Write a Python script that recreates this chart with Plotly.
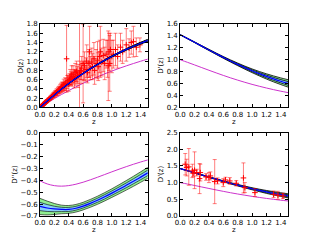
import plotly.graph_objects as go

# ---------------- data ----------------
z_grid = [0.0, 0.1, 0.2, 0.3, 0.4, 0.5, 0.6, 0.7, 0.8, 0.9, 1.0, 1.1, 1.2, 1.3, 1.4, 1.5]

# reconstruction (blue line) and band half-widths
D_center = [0.0, 0.139, 0.271, 0.397, 0.516, 0.629, 0.735, 0.835, 0.929, 1.018, 1.101, 1.179, 1.252, 1.321, 1.386, 1.447]
D_sig2 = [0.0, 0.001, 0.001, 0.002, 0.003, 0.004, 0.005, 0.006, 0.008, 0.010, 0.012, 0.014, 0.016, 0.018, 0.020, 0.022]
D_sig1 = [0.0, 0.0005, 0.0005, 0.001, 0.0015, 0.002, 0.0025, 0.003, 0.004, 0.005, 0.006, 0.007, 0.008, 0.009, 0.010, 0.011]

Dp_center = [1.42, 1.357, 1.294, 1.229, 1.165, 1.102, 1.040, 0.980, 0.923, 0.868, 0.816, 0.767, 0.721, 0.679, 0.640, 0.604]
Dp_sig2 = [0.002, 0.004, 0.006, 0.008, 0.010, 0.012, 0.015, 0.018, 0.022, 0.026, 0.031, 0.037, 0.044, 0.050, 0.056, 0.062]
Dp_sig1 = [0.001, 0.002, 0.003, 0.004, 0.005, 0.006, 0.0075, 0.009, 0.011, 0.013, 0.0155, 0.0185, 0.022, 0.025, 0.028, 0.031]

Dpp_center = [-0.620, -0.633, -0.641, -0.645, -0.645, -0.635, -0.617, -0.594, -0.568, -0.539, -0.508, -0.476, -0.443, -0.409, -0.374, -0.338]
Dpp_sig2 = [0.068, 0.058, 0.046, 0.036, 0.033, 0.032, 0.032, 0.033, 0.034, 0.035, 0.036, 0.038, 0.040, 0.042, 0.044, 0.046]
Dpp_sig1 = [0.035, 0.029, 0.023, 0.018, 0.017, 0.016, 0.016, 0.016, 0.017, 0.018, 0.018, 0.019, 0.020, 0.021, 0.022, 0.023]

# reference model (magenta)
mag_D = [0.0, 0.098, 0.1915, 0.2807, 0.3654, 0.4457, 0.5216, 0.5934, 0.6612, 0.7253, 0.7858, 0.8430, 0.8972, 0.9485, 0.9971, 1.0432]
mag_Dp = [1.0, 0.958, 0.914, 0.869, 0.8245, 0.7806, 0.738, 0.697, 0.6587, 0.6223, 0.588, 0.5564, 0.5267, 0.4991, 0.4734, 0.4495]
mag_Dpp = [-0.405, -0.431, -0.4455, -0.4497, -0.445, -0.4334, -0.4168, -0.3968, -0.375, -0.3524, -0.3297, -0.3076, -0.2864, -0.2663, -0.2475, -0.2299]

# distance data (top-left)
sn_z = [0.015, 0.02, 0.025, 0.03, 0.035, 0.04, 0.045, 0.05, 0.055, 0.06, 0.065, 0.07, 0.075, 0.08, 0.085, 0.09,
        0.1, 0.11, 0.12, 0.13, 0.14, 0.15, 0.16, 0.17, 0.18, 0.19, 0.2, 0.21, 0.22, 0.23, 0.24, 0.25, 0.26, 0.27,
        0.28, 0.29, 0.3, 0.31, 0.32, 0.33, 0.34, 0.35, 0.36, 0.37, 0.38, 0.39, 0.4, 0.41, 0.42, 0.43, 0.44, 0.45,
        0.46, 0.47, 0.48, 0.49, 0.5, 0.51, 0.52, 0.53, 0.55, 0.56, 0.57, 0.58, 0.6, 0.61, 0.62, 0.64, 0.65, 0.66,
        0.68, 0.69, 0.7, 0.72, 0.73, 0.75, 0.76, 0.78, 0.8, 0.81, 0.83, 0.84, 0.86, 0.88, 0.9, 0.92, 0.94, 0.95,
        0.96, 0.97, 0.98, 1.0, 1.02, 1.05, 1.08, 1.12, 1.15, 1.2, 1.24, 1.27, 1.3, 1.34, 1.39]
sn_D = [0.02, 0.03, 0.036, 0.04, 0.052, 0.055, 0.066, 0.07, 0.08, 0.082, 0.095, 0.098, 0.11, 0.112, 0.12, 0.13,
        0.14, 0.155, 0.172, 0.18, 0.2, 0.21, 0.225, 0.24, 0.26, 0.27, 0.28, 0.3, 0.31, 0.33, 0.33, 0.36, 0.37, 0.38,
        0.4, 0.42, 0.43, 0.45, 0.44, 0.49, 0.47, 0.52, 0.5, 1.05, 0.55, 0.58, 0.5, 0.6, 0.66, 0.62, 0.7, 0.6,
        0.72, 0.66, 0.62, 0.75, 0.64, 0.78, 0.7, 0.68, 0.75, 0.8, 0.72, 0.85, 0.95, 0.78, 0.9, 0.82, 1.0, 0.75,
        0.95, 1.2, 0.85, 0.98, 0.88, 1.05, 0.8, 0.95, 1.02, 0.88, 1.1, 1.2, 0.98, 1.12, 0.95, 1.15, 1.05, 0.9,
        1.2, 0.95, 1.25, 1.1, 1.15, 1.25, 1.1, 1.3, 1.2, 1.35, 1.28, 1.4, 1.42, 1.3, 1.35]
sn_err = [0.01, 0.01, 0.012, 0.012, 0.014, 0.015, 0.016, 0.018, 0.02, 0.02, 0.022, 0.024, 0.025, 0.026, 0.028, 0.03,
          0.03, 0.03, 0.035, 0.035, 0.04, 0.04, 0.045, 0.05, 0.05, 0.05, 0.06, 0.06, 0.06, 0.07, 0.07, 0.07, 0.08, 0.08,
          0.09, 0.09, 0.1, 0.1, 0.1, 0.12, 0.1, 0.12, 0.13, 0.72, 0.14, 0.12, 0.15, 0.13, 0.16, 0.15, 0.2, 0.14,
          0.18, 0.15, 0.2, 0.2, 0.16, 0.22, 0.18, 0.25, 1.1, 0.2, 0.2, 0.25, 0.85, 0.2, 0.3, 0.25, 0.35, 0.22,
          0.3, 0.55, 0.25, 0.3, 0.28, 0.35, 0.3, 0.3, 0.4, 0.3, 0.35, 0.55, 0.3, 0.35, 0.35, 0.3, 0.4, 0.75,
          0.4, 0.6, 0.35, 0.35, 0.3, 0.35, 0.25, 0.3, 0.25, 0.35, 0.2, 0.25, 0.33, 0.2, 0.15]

# derivative data (bottom-right)
hz_z = [0.07, 0.09, 0.12, 0.17, 0.18, 0.2, 0.23, 0.27, 0.28, 0.36, 0.4, 0.42, 0.48, 0.52, 0.6, 0.63,
        0.69, 0.78, 0.88, 0.9, 1.04, 1.3, 1.36, 1.43]
hz_Dp = [1.55, 1.45, 1.47, 1.35, 1.28, 1.37, 1.3, 1.12, 1.3, 1.17, 1.15, 1.2, 1.03, 1.05, 1.0, 1.08,
         1.05, 0.98, 1.14, 0.85, 0.7, 0.65, 0.62, 0.6]
hz_err = [0.32, 0.25, 0.55, 0.2, 0.1, 0.55, 0.1, 0.45, 0.25, 0.1, 0.15, 0.12, 0.66, 0.09, 0.12, 0.08,
          0.1, 0.08, 0.45, 0.15, 0.12, 0.1, 0.12, 0.08]

# axis titles
x_title = "z"
y_titles = ["D(z)", "D'(z)", "D''(z)", "D'(z)"]

# ---------------- figure ----------------
GREEN = "#90ee90"
LBLUE = "#87cefa"
BLUE = "#0000ff"
MAG = "#cc33cc"
RED = "rgba(255,0,0,0.5)"

fig = go.Figure()


def add_band(xa, ya, center, s1, s2, lw_edge=0.8):
    up2 = [c + s for c, s in zip(center, s2)]
    lo2 = [c - s for c, s in zip(center, s2)]
    up1 = [c + s for c, s in zip(center, s1)]
    lo1 = [c - s for c, s in zip(center, s1)]
    common = dict(x=z_grid, xaxis=xa, yaxis=ya, mode="lines", showlegend=False,
                  hoverinfo="skip", line_shape="spline")
    fig.add_trace(go.Scatter(y=up2, line=dict(color="black", width=lw_edge), **common))
    fig.add_trace(go.Scatter(y=lo2, line=dict(color="black", width=lw_edge), fill="tonexty",
                             fillcolor=GREEN, **common))
    fig.add_trace(go.Scatter(y=up1, line=dict(color="black", width=lw_edge), **common))
    fig.add_trace(go.Scatter(y=lo1, line=dict(color="black", width=lw_edge), fill="tonexty",
                             fillcolor=LBLUE, **common))
    fig.add_trace(go.Scatter(y=center, line=dict(color=BLUE, width=1.2), **common))


def add_mag(xa, ya, vals):
    fig.add_trace(go.Scatter(x=z_grid, y=vals, xaxis=xa, yaxis=ya, mode="lines",
                             line=dict(color=MAG, width=1), line_shape="spline",
                             showlegend=False, hoverinfo="skip"))


def add_data(xa, ya, xs, ys, es):
    fig.add_trace(go.Scatter(x=xs, y=ys, xaxis=xa, yaxis=ya, mode="markers",
                             marker=dict(symbol="cross-thin", size=4, color="red",
                                         line=dict(color="red", width=1)),
                             error_y=dict(type="data", array=es, visible=True,
                                          color=RED, thickness=1, width=2),
                             showlegend=False, hoverinfo="skip"))


# top-left: D(z)
add_mag("x", "y", mag_D)
add_data("x", "y", sn_z, sn_D, sn_err)
add_band("x", "y", D_center, D_sig1, D_sig2, lw_edge=1)

# top-right: D'(z)
add_mag("x2", "y2", mag_Dp)
add_band("x2", "y2", Dp_center, Dp_sig1, Dp_sig2, lw_edge=0.8)

# bottom-left: D''(z)
add_mag("x3", "y3", mag_Dpp)
add_band("x3", "y3", Dpp_center, Dpp_sig1, Dpp_sig2, lw_edge=0.6)

# bottom-right: D'(z) with data
add_mag("x4", "y4", mag_Dp)
add_band("x4", "y4", Dp_center, Dp_sig1, Dp_sig2, lw_edge=0.8)
add_data("x4", "y4", hz_z, hz_Dp, hz_err)

FONT = dict(family="DejaVu Sans", size=7, color="black")

xl = [0.125, 0.4619]
xr = [0.5631, 0.9]
yt = [0.5521, 0.9]
yb = [0.1, 0.4479]


def ax(domain, rng, dtick, anchor, fmt=".1f"):
    return dict(domain=domain, range=rng, dtick=dtick, tick0=0, tickformat=fmt,
                showline=True, linecolor="black", linewidth=1, mirror="ticks",
                ticks="inside", ticklen=3, tickwidth=0.8, tickcolor="black",
                showgrid=False, zeroline=False, tickfont=FONT, anchor=anchor,
                tickangle=0, automargin=False)


fig.update_layout(
    width=320, height=240,
    margin=dict(l=0, r=0, t=0, b=0),
    paper_bgcolor="white", plot_bgcolor="white",
    font=FONT,
    xaxis=ax(xl, [0, 1.5], 0.2, "y"),
    yaxis=ax(yt, [0, 1.8], 0.2, "x"),
    xaxis2=ax(xr, [0, 1.5], 0.2, "y2"),
    yaxis2=ax(yt, [0.2, 1.6], 0.2, "x2"),
    xaxis3=ax(xl, [0, 1.5], 0.2, "y3"),
    yaxis3=ax(yb, [-0.7, 0.0], 0.1, "x3"),
    xaxis4=ax(xr, [0, 1.5], 0.2, "y4"),
    yaxis4=ax(yb, [0, 2.5], 0.5, "x4"),
)

# axis titles as annotations (pixel-placed like the reference)
W, H = 320.0, 240.0
x_title_pos = [(sum(xl) / 2, 1 - 122.5 / H), (sum(xr) / 2, 1 - 122.5 / H),
               (sum(xl) / 2, 1 - 230.0 / H), (sum(xr) / 2, 1 - 230.0 / H)]
y_title_pos = [(20.5 / W, sum(yt) / 2), (161.0 / W, sum(yt) / 2),
               (15.5 / W, sum(yb) / 2), (161.0 / W, sum(yb) / 2)]
for (px, py) in x_title_pos:
    fig.add_annotation(x=px, y=py, xref="paper", yref="paper", text=x_title,
                       showarrow=False, font=FONT, xanchor="center", yanchor="middle")
for (px, py), t in zip(y_title_pos, y_titles):
    fig.add_annotation(x=px, y=py, xref="paper", yref="paper", text=t, textangle=-90,
                       showarrow=False, font=FONT, xanchor="center", yanchor="middle")

fig.write_html(
    "out.html",
    config={"displayModeBar": False},
    post_script="document.body.style.margin='0px';document.body.style.overflow='hidden';",
)
